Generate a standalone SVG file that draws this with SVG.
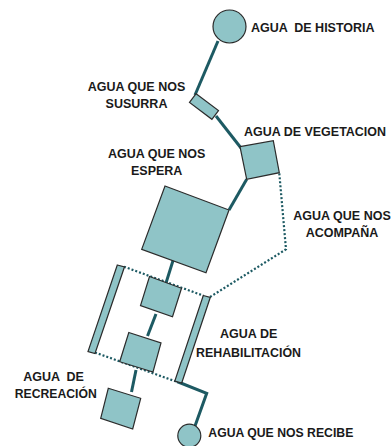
<svg xmlns="http://www.w3.org/2000/svg" width="391" height="446" viewBox="0 0 391 446">
<style>
.n{fill:#8fc4c7;stroke:#2b2b2b;stroke-width:1.2}
.c{fill:none;stroke:#1d5a63;stroke-width:3;stroke-linejoin:miter}
.d{fill:none;stroke:#1d5a63;stroke-width:2.2;stroke-dasharray:2 2}
text{font-family:"Liberation Sans",Arial,sans-serif;font-weight:bold;font-size:12.5px;fill:#1a1a1a}
.m{text-anchor:middle}
</style>
<rect width="391" height="446" fill="#fff"/>
<g id="connectors">
<line class="c" x1="218" y1="41" x2="195" y2="95"/>
<line class="c" x1="216" y1="116" x2="241" y2="148"/>
<line class="c" x1="246.7" y1="179.3" x2="229" y2="210"/>
<line class="c" x1="173.5" y1="259" x2="166" y2="283"/>
<line class="c" x1="156" y1="314" x2="147.5" y2="336"/>
<line class="c" x1="136" y1="370" x2="131.5" y2="392"/>
<polyline class="c" points="177,381.5 206.7,393.3 195,426"/>
<line class="d" x1="124" y1="266.7" x2="203.5" y2="295.7"/>
<line class="d" x1="95" y1="352.5" x2="176" y2="381.5"/>
<polyline class="d" points="279.3,173.3 286,249.3 210,297"/>
</g>
<g id="n-historia"><circle class="n" cx="229.5" cy="26.5" r="16.5"/><text x="251" y="31.7" xml:space="preserve">AGUA  DE HISTORIA</text></g>
<g id="n-susurra"><polygon class="n" points="196.1,93.7 218.5,110.5 211.9,119.3 189.5,102.5"/><text class="m" x="136.5" y="90.5">AGUA QUE NOS</text><text class="m" x="136.5" y="108.3">SUSURRA</text></g>
<g id="n-vegetacion"><polygon class="n" points="240,146.7 273.3,140.7 279.3,172.7 246.7,179.3"/><text x="244" y="135.7" textLength="142" lengthAdjust="spacingAndGlyphs">AGUA DE VEGETACION</text></g>
<g id="n-espera"><polygon class="n" points="165,186 229,210 206,272.7 141.7,249.3"/><text class="m" x="156.7" y="158">AGUA QUE NOS</text><text class="m" x="156.7" y="175">ESPERA</text></g>
<g id="n-acompana"><text class="m" x="342" y="220">AGUA QUE NOS</text><text class="m" x="342" y="237">ACOMPAÑA</text></g>
<g id="n-bar-left"><polygon class="n" points="117.3,265 124.5,266.8 95,353.5 88,351.5"/></g>
<g id="n-bar-right"><polygon class="n" points="203.3,295.5 210.3,297.3 181.7,383 174.8,381"/></g>
<g id="n-box2"><polygon class="n" points="149.5,276.5 181.5,288.3 172.5,316.7 140.5,305.5"/></g>
<g id="n-box3"><polygon class="n" points="128.8,332.5 161,343 153,372 119.7,361.7"/></g>
<g id="n-box4"><polygon class="n" points="108.3,388.3 140.7,398.3 132.7,429 100.7,418.3"/></g>
<g id="n-rehabilitacion"><text class="m" x="248.7" y="338">AGUA DE</text><text class="m" x="248.5" y="356.5" textLength="105" lengthAdjust="spacingAndGlyphs">REHABILITACIÓN</text></g>
<g id="n-recreacion"><text class="m" x="53.5" y="380.5" xml:space="preserve">AGUA  DE</text><text class="m" x="55.8" y="398" textLength="82" lengthAdjust="spacingAndGlyphs">RECREACIÓN</text></g>
<g id="n-recibe"><circle class="n" cx="189.3" cy="435.7" r="11.5"/><text x="208.3" y="436.5" textLength="145" lengthAdjust="spacingAndGlyphs">AGUA QUE NOS RECIBE</text></g>
</svg>
